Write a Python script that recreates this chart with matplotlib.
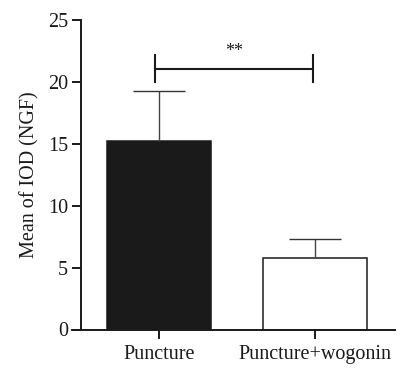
import matplotlib.pyplot as plt

# values
groups = ["Puncture", "Puncture+wogonin"]
means = [15.2, 5.75]
errs = [4.1, 1.55]
bar_colors = ["#1a1a1a", "white"]

# significance bracket between the two groups
sig_x = [-0.025, 0.985]
sig_y = 21.05
sig_tick_lo = 20.0
sig_tick_hi = 22.2
sig_text = "**"

plt.rcParams['font.family'] = ['Liberation Serif', 'DejaVu Serif']

fig = plt.figure(figsize=(4.02, 3.68), dpi=100)
ax = fig.add_axes([72 / 402, 38.5 / 368, 323 / 402, 309.5 / 368])

x = list(range(len(groups)))
ax.bar(x, means, width=0.667, color=bar_colors, edgecolor="#1a1a1a",
       linewidth=1.1, zorder=2)

# one-sided error bars (upper only)
tops = [m + e for m, e in zip(means, errs)]
ax.vlines(x, means, tops, color="#444444", linewidth=1.0, zorder=3)
ax.hlines(tops, [i - 0.167 for i in x], [i + 0.167 for i in x],
          color="#333333", linewidth=1.0, zorder=3)

# bracket
ax.plot(sig_x, [sig_y, sig_y], color="#1a1a1a", linewidth=1.5)
for sx in sig_x:
    ax.plot([sx, sx], [sig_tick_lo, sig_tick_hi], color="#1a1a1a", linewidth=1.5)
ax.text(sum(sig_x) / 2, sig_y + 0.7, sig_text, ha="center", va="bottom",
        fontsize=13, color="#1a1a1a")

ax.set_xlim(-0.5577, 1.5128)
ax.set_ylim(0, 25)
ax.set_yticks([0, 5, 10, 15, 20, 25])
ax.set_xticks(x)
ax.set_xticklabels(groups)
ax.set_ylabel("Mean of IOD (NGF)", fontsize=14.5, color="#1a1a1a", labelpad=6)

ax.spines['top'].set_visible(False)
ax.spines['right'].set_visible(False)
ax.spines['left'].set_position(('data', -0.5))
for s in ['left', 'bottom']:
    ax.spines[s].set_linewidth(1.4)
    ax.spines[s].set_color("#1a1a1a")
ax.tick_params(axis='both', length=6.3, width=1.4, color="#1a1a1a",
               labelsize=14.5, labelcolor="#1a1a1a")
ax.tick_params(axis='y', pad=3)
ax.tick_params(axis='x', pad=5)

fig.savefig("out.png", dpi=100)
